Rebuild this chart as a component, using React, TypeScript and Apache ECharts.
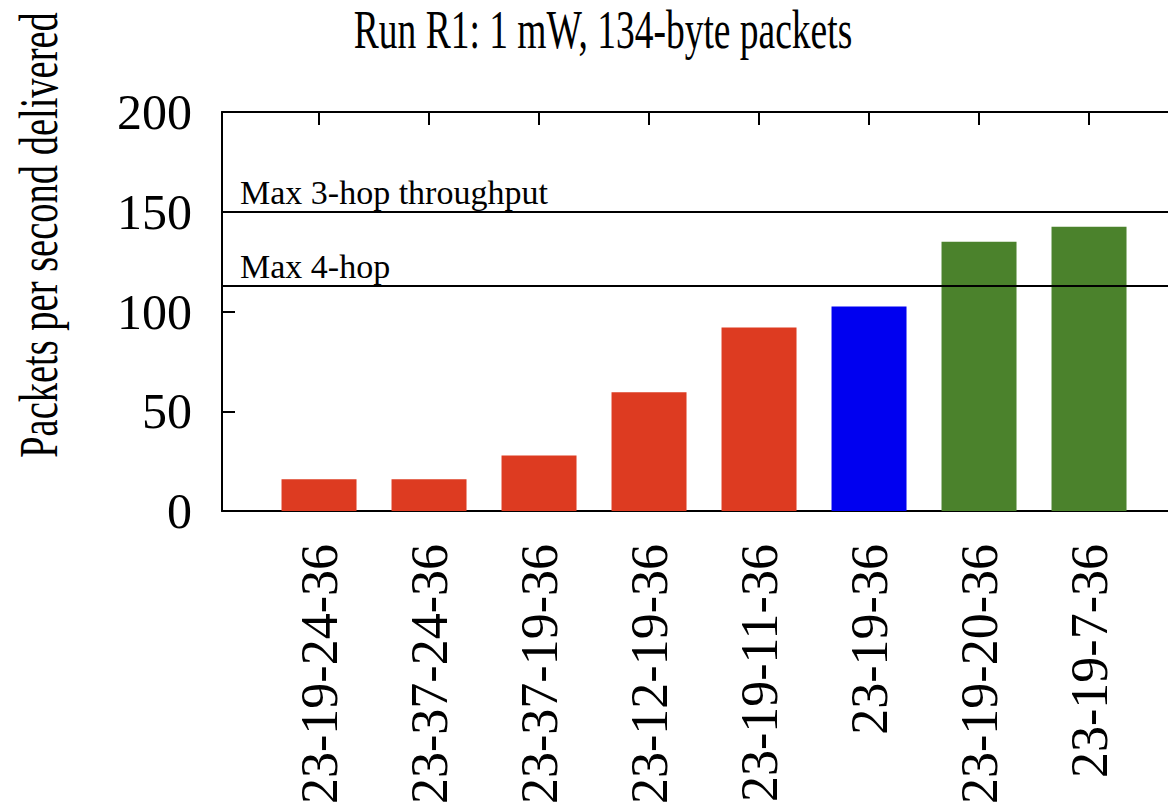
import React, { useEffect, useRef } from "react";
import * as echarts from "echarts";

const titleText = "Run R1: 1 mW, 134-byte packets";
const yAxisTitle = "Packets per second delivered";
const categories = [
  "23-19-24-36",
  "23-37-24-36",
  "23-37-19-36",
  "23-12-19-36",
  "23-19-11-36",
  "23-19-36",
  "23-19-20-36",
  "23-19-7-36",
];
const values = [16, 16, 27.8, 59.5, 92, 102.5, 135, 142.5];
const barGroup = ["A", "A", "A", "A", "A", "B", "C", "C"];
const refLineNames = ["Max 3-hop throughput", "Max 4-hop"];
const refLineValues = [150, 112.8];
const yTicks = { min: 0, max: 200, interval: 50 };

const groupColors: Record<string, string> = {
  A: "#dd3b21",
  B: "#0000f0",
  C: "#4b822c",
};

const FONT = '"Liberation Serif", "Times New Roman", serif';

export default function App() {
  const ref = useRef<HTMLDivElement>(null);
  useEffect(() => {
    if (!ref.current) return;
    const chart = echarts.init(ref.current, undefined, { renderer: "svg" });
    const idx = categories.map((_, i) => i);
    const xMin = -0.882;
    const xMax = 7.718;
    const lineStyle = { color: "#000", width: 2 };
    const refStyle = { color: "#000", width: 2, type: "solid" };
    chart.setOption({
      animation: false,
      backgroundColor: "#ffffff",
      grid: { left: 222, top: 112, bottom: 291, right: 0, containLabel: false },
      xAxis: [
        {
          type: "value",
          position: "bottom",
          min: xMin,
          max: xMax,
          axisLine: { show: true, onZero: false, lineStyle },
          axisTick: { show: false },
          splitLine: { show: false },
          axisLabel: {
            customValues: idx,
            formatter: (v: number) => categories[Math.round(v)] ?? "",
            rotate: 90,
            fontSize: 52,
            fontFamily: FONT,
            color: "#000",
            margin: 33,
          },
        },
        {
          type: "value",
          position: "top",
          min: xMin,
          max: xMax,
          axisLine: { show: true, onZero: false, lineStyle },
          axisTick: {
            show: true,
            inside: true,
            length: 13,
            customValues: idx,
            lineStyle,
          },
          axisLabel: { show: false },
          splitLine: { show: false },
        },
      ],
      yAxis: {
        type: "value",
        min: yTicks.min,
        max: yTicks.max,
        interval: yTicks.interval,
        axisLine: { show: true, onZero: false, lineStyle },
        axisTick: { show: true, inside: true, length: 13, lineStyle },
        axisLabel: { fontSize: 50, fontFamily: FONT, color: "#000", margin: 30 },
        splitLine: { show: false },
      },
      graphic: [
        {
          type: "text",
          x: 603,
          y: 29,
          scaleY: 1.48,
          style: {
            text: titleText,
            fontSize: 37.5,
            fontFamily: FONT,
            fill: "#000",
            align: "center",
            verticalAlign: "middle",
          },
        },
        {
          type: "text",
          x: 38,
          y: 235,
          rotation: Math.PI / 2,
          scaleY: 1.45,
          style: {
            text: yAxisTitle,
            fontSize: 38.5,
            fontFamily: FONT,
            fill: "#000",
            align: "center",
            verticalAlign: "middle",
          },
        },
      ],
      series: [
        {
          type: "bar",
          xAxisIndex: 0,
          yAxisIndex: 0,
          barWidth: 75,
          data: values.map((v, i) => ({
            value: [i, v],
            itemStyle: { color: groupColors[barGroup[i]] },
          })),
          markLine: {
            silent: true,
            symbol: "none",
            lineStyle: refStyle,
            label: {
              show: true,
              position: "insideStartTop",
              distance: [18, 2],
              fontSize: 34,
              fontFamily: FONT,
              color: "#000",
              formatter: (p: any) => p.name,
            },
            emphasis: { disabled: true },
            data: refLineValues.map((v, i) => ({
              yAxis: v,
              name: refLineNames[i],
              lineStyle: refStyle,
            })),
          },
        },
      ],
    });
    return () => chart.dispose();
  }, []);
  return (
    <div
      ref={ref}
      style={{ position: "fixed", left: 0, top: 0, width: 1168, height: 807, background: "#fff" }}
    />
  );
}
